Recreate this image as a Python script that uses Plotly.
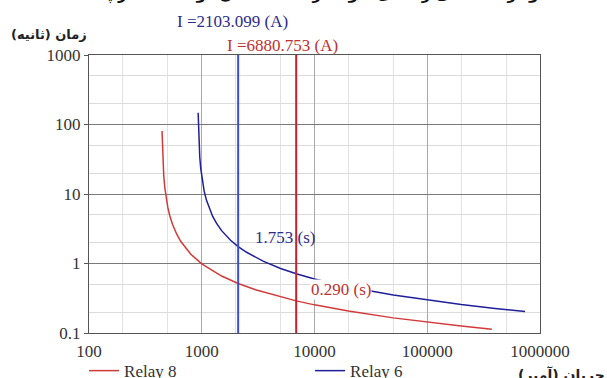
import plotly.graph_objects as go

# Relay 6 time-current characteristic (current in A, time in s)
relay6_current = [929, 940, 960, 980, 1000, 1050, 1100, 1170, 1250, 1350, 1500, 1800,
                  2103.099, 2500, 3500, 5000, 7000, 10000, 20000, 50000, 100000,
                  200000, 400000, 736000]
relay6_time = [148, 67.9, 34.3, 23.1, 17.5, 11.0, 8.16, 6.06, 4.75, 3.80, 2.97, 2.16,
               1.753, 1.45, 1.08, 0.848, 0.705, 0.598, 0.460, 0.351, 0.297,
               0.257, 0.226, 0.204]

# Relay 8 time-current characteristic
relay8_current = [444.5, 450, 460, 470, 485, 500, 520, 550, 600, 650, 800, 1000, 1500,
                  2103.099, 3000, 5000, 6880.753, 10000, 20000, 50000, 100000,
                  200000, 374000]
relay8_time = [80.6, 36.5, 18.4, 12.4, 8.41, 6.40, 4.90, 3.67, 2.64, 2.09, 1.36, 0.990,
               0.660, 0.516, 0.419, 0.329, 0.290, 0.254, 0.207, 0.165, 0.143,
               0.126, 0.1135]

# Fault currents seen by each relay and the resulting operating times
fault_current_6 = 2103.099
fault_current_8 = 6880.753
op_time_6 = 1.753
op_time_8 = 0.290

x_tickvals = [100, 1000, 10000, 100000, 1000000]
x_ticktext = ["100", "1000", "10000", "100000", "1000000"]
y_tickvals = [0.1, 1, 10, 100, 1000]
y_ticktext = ["0.1", "1", "10", "100", "1000"]

RED = "#d23a3a"
NAVY = "#1f1f9a"
BLUE_V = "#3a4fd6"
RED_V = "#c8202a"
SERIF = "Liberation Serif"

fig = go.Figure()

fig.add_trace(go.Scatter(x=relay8_current, y=relay8_time, mode="lines",
                         name="Relay 8", line=dict(color=RED, width=1.5)))
fig.add_trace(go.Scatter(x=relay6_current, y=relay6_time, mode="lines",
                         name="Relay 6", line=dict(color=NAVY, width=1.5)))

# Vertical markers at the fault currents
fig.add_trace(go.Scatter(x=[fault_current_6, fault_current_6], y=[0.1, 1000], mode="lines",
                         line=dict(color=BLUE_V, width=2), showlegend=False, hoverinfo="skip"))
fig.add_trace(go.Scatter(x=[fault_current_8, fault_current_8], y=[0.1, 1000], mode="lines",
                         line=dict(color=RED_V, width=2), showlegend=False, hoverinfo="skip"))

annotations = [
    dict(x=0.5, y=1.175, xref="paper", yref="paper", xanchor="center", yanchor="bottom",
         text="<b>نمودار هماهنگی رله‌های ۶ و ۸ در حالت اتصال کوتاه سه فاز پست</b>",
         showarrow=False, font=dict(family="DejaVu Sans", size=15, color="#111")),
    dict(x=0.0, y=1.04, xref="paper", yref="paper", xanchor="right", yanchor="bottom",
         text="<b>زمان (ثانیه)</b>", showarrow=False,
         font=dict(family="DejaVu Sans", size=13, color="#222")),
    dict(x=1.149, y=-0.15, xref="paper", yref="paper", xanchor="right", yanchor="middle",
         text="<b>جریان (آمپر)</b>", showarrow=False,
         font=dict(family="DejaVu Sans", size=14, color="#222")),
    dict(x=0.318, y=1.12, xref="paper", yref="paper", xanchor="center", yanchor="middle",
         text=f"I ={fault_current_6} (A)", showarrow=False,
         font=dict(family=SERIF, size=17, color="#2b2b8c")),
    dict(x=0.429, y=1.035, xref="paper", yref="paper", xanchor="center", yanchor="middle",
         text=f"I ={fault_current_8} (A)", showarrow=False,
         font=dict(family=SERIF, size=17, color="#c0302f")),
    dict(x=3.738, y=0.381, xref="x", yref="y", xanchor="center", yanchor="middle",
         text=f"{op_time_6} (s)", showarrow=False,
         font=dict(family=SERIF, size=17, color="#2b2b8c")),
    dict(x=4.235, y=-0.381, xref="x", yref="y", xanchor="center", yanchor="middle",
         text=f"{op_time_8:.3f} (s)", showarrow=False, bgcolor="white", borderpad=0,
         font=dict(family=SERIF, size=17, color="#c0302f")),
]

fig.update_layout(
    width=607, height=378,
    margin=dict(l=89, r=67, t=55, b=45, autoexpand=False),
    paper_bgcolor="white", plot_bgcolor="white",
    font=dict(family=SERIF, size=17, color="#333"),
    showlegend=True,
    legend=dict(orientation="h", x=-0.011, y=-0.137, xanchor="left", yanchor="middle",
                entrywidth=181, entrywidthmode="pixels",
                font=dict(family=SERIF, size=17, color="#333"),
                bgcolor="rgba(0,0,0,0)", itemwidth=30, tracegroupgap=0),
    annotations=annotations,
)

fig.update_xaxes(type="log", range=[2, 6], tickvals=x_tickvals, ticktext=x_ticktext,
                 showgrid=True, gridcolor="#a8a8a8", gridwidth=1,
                 minor=dict(dtick="D2", showgrid=True, gridcolor="#e2e2e2", gridwidth=1),
                 showline=True, linecolor="#555", linewidth=1.2, mirror=True,
                 ticks="outside", ticklen=2, tickcolor="rgba(0,0,0,0)", zeroline=False,
                 tickfont=dict(family=SERIF, size=17, color="#333"))
fig.update_yaxes(type="log", range=[-1, 3], tickvals=y_tickvals, ticktext=y_ticktext,
                 showgrid=True, gridcolor="#7a7a7a", gridwidth=1.2,
                 minor=dict(dtick="D2", showgrid=True, gridcolor="#dcdcdc", gridwidth=1),
                 showline=True, linecolor="#555", linewidth=1.2, mirror=True,
                 ticks="outside", ticklen=4, tickcolor="#555", zeroline=False,
                 tickfont=dict(family=SERIF, size=17, color="#333"))

fig.write_html("out.html")
